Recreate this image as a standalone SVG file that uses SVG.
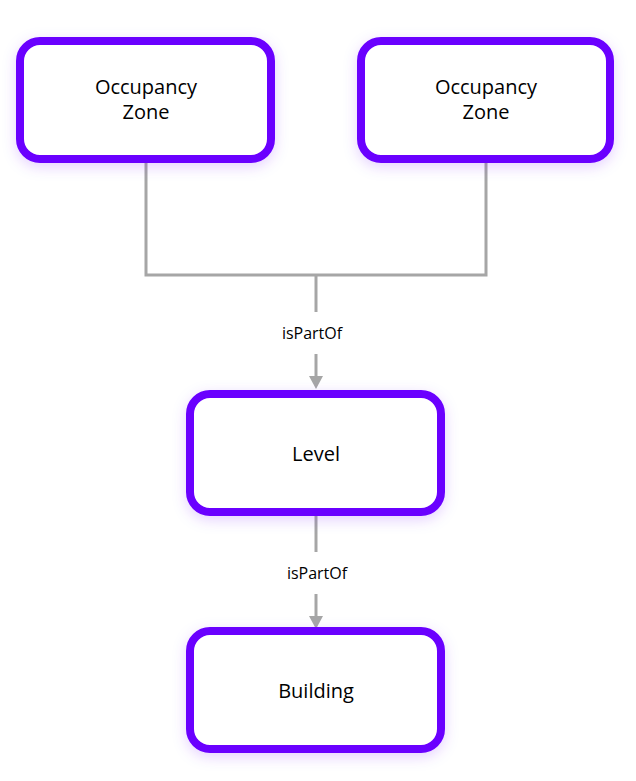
<svg xmlns="http://www.w3.org/2000/svg" width="636" height="781" viewBox="0 0 636 781">
<defs>
<filter id="glow" x="-20%" y="-30%" width="140%" height="160%">
<feDropShadow dx="0" dy="4" stdDeviation="7" flood-color="#6a00ff" flood-opacity="0.18"/>
</filter>
</defs>
<style>
.box{fill:#ffffff;stroke:#6a00ff;stroke-width:8;filter:url(#glow)}
.lbl{font-family:"Open Sans","Liberation Sans",sans-serif;font-size:20px;fill:#000;text-anchor:middle}
.elbl{font-family:"Open Sans","Liberation Sans",sans-serif;font-size:16px;fill:#000;text-anchor:middle}
.con{stroke:#a6a6a6;stroke-width:3;fill:none}
.head{fill:#a6a6a6}
</style>
<rect width="636" height="781" fill="#ffffff"/>
<g id="connectors">
<polyline class="con" points="146,163 146,275 486,275 486,163"/>
<line class="con" x1="316" y1="275" x2="316" y2="312"/>
<line class="con" x1="316" y1="354" x2="316" y2="377"/>
<path class="head" d="M309,376 L323,376 L316,389 Z"/>
<text class="elbl" x="312" y="339">isPartOf</text>
<line class="con" x1="316" y1="516" x2="316" y2="552"/>
<line class="con" x1="316" y1="594" x2="316" y2="617"/>
<path class="head" d="M309,616 L323,616 L316,629 Z"/>
<text class="elbl" x="317" y="579">isPartOf</text>
</g>
<g id="zone1">
<rect class="box" x="20" y="41" width="251" height="118" rx="20"/>
<text class="lbl" x="146" y="94">Occupancy</text>
<text class="lbl" x="146" y="119">Zone</text>
</g>
<g id="zone2">
<rect class="box" x="361" y="41" width="249" height="118" rx="20"/>
<text class="lbl" x="486" y="94">Occupancy</text>
<text class="lbl" x="486" y="119">Zone</text>
</g>
<g id="level">
<rect class="box" x="190" y="394" width="251" height="118" rx="20"/>
<text class="lbl" x="316" y="461">Level</text>
</g>
<g id="building">
<rect class="box" x="190" y="631" width="251" height="118" rx="20"/>
<text class="lbl" x="316" y="698">Building</text>
</g>
</svg>
